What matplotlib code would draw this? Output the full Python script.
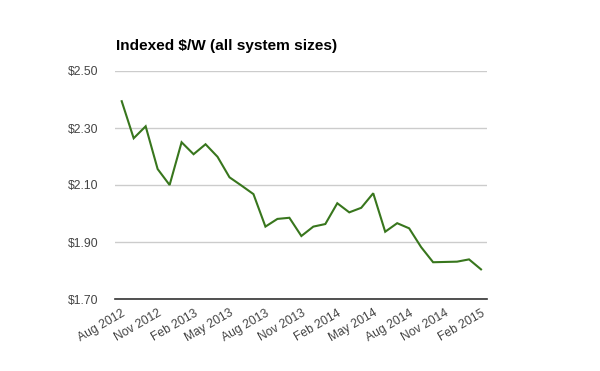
import matplotlib
matplotlib.use('Agg')
import matplotlib.pyplot as plt
import numpy as np

plt.rcParams['font.family'] = ['Liberation Sans', 'DejaVu Sans']

months = ['Aug 2012', 'Sep 2012', 'Oct 2012', 'Nov 2012', 'Dec 2012', 'Jan 2013',
          'Feb 2013', 'Mar 2013', 'Apr 2013', 'May 2013', 'Jun 2013', 'Jul 2013',
          'Aug 2013', 'Sep 2013', 'Oct 2013', 'Nov 2013', 'Dec 2013', 'Jan 2014',
          'Feb 2014', 'Mar 2014', 'Apr 2014', 'May 2014', 'Jun 2014', 'Jul 2014',
          'Aug 2014', 'Sep 2014', 'Oct 2014', 'Nov 2014', 'Dec 2014', 'Jan 2015',
          'Feb 2015']
price = [2.394, 2.264, 2.306, 2.156, 2.100, 2.250, 2.208, 2.243, 2.199, 2.127,
         2.098, 2.068, 1.954, 1.981, 1.985, 1.921, 1.954, 1.963, 2.036, 2.004,
         2.020, 2.071, 1.936, 1.966, 1.948, 1.882, 1.829, 1.830, 1.831, 1.839,
         1.804]
yticks = [1.70, 1.90, 2.10, 2.30, 2.50]

fig = plt.figure(figsize=(6.0, 3.71), dpi=100)
ax = fig.add_axes([115/600, 1 - 299/371, 372/600, 228/371])

x = np.arange(len(months))
ax.plot(x, price, color='#38761d', linewidth=1.5, solid_joinstyle='miter', zorder=3)

ax.set_ylim(1.70, 2.50)
ax.set_xlim(-0.56, 30.5)
ax.set_yticks(yticks)
ax.set_yticklabels(['$%.2f' % v for v in yticks])
ax.set_xticks(x[::3])
ax.set_xticklabels(months[::3], rotation=30, ha='right', rotation_mode='anchor')

ax.grid(axis='y', color='#cccccc', linewidth=1)
ax.set_axisbelow(True)
for s in ['top', 'right', 'left']:
    ax.spines[s].set_visible(False)
ax.spines['bottom'].set_color('#333333')
ax.spines['bottom'].set_linewidth(1.2)
ax.spines['bottom'].set_zorder(4)
ax.tick_params(axis='both', length=0, labelsize=8.7, labelcolor='#444444')
ax.tick_params(axis='y', pad=12)
ax.tick_params(axis='x', pad=6)

fig.text(116/600, 1 - 50/371, 'Indexed $/W (all system sizes)', fontsize=11.1,
         fontweight='bold', color='#000000', ha='left', va='baseline')

fig.savefig('out.png', dpi=100)
